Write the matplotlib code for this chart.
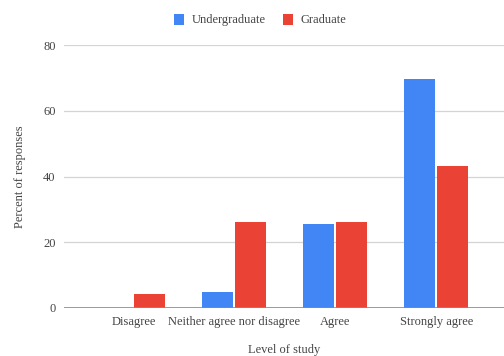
import matplotlib
matplotlib.use("Agg")
import matplotlib.pyplot as plt
import numpy as np

categories = ["Disagree", "Neither agree nor disagree", "Agree", "Strongly agree"]
undergraduate = [0, 4.9, 25.4, 69.8]
graduate = [4.3, 26.1, 26.1, 43.2]
y_ticks = [0, 20, 40, 60, 80]

BLUE = "#4285F4"
RED = "#EA4335"
TEXT = "#444444"

plt.rcParams["font.family"] = ["Liberation Serif", "DejaVu Serif"]

W, H = 504, 356
fig = plt.figure(figsize=(W / 100, H / 100), dpi=100)
ax = fig.add_axes([64 / W, 1 - 308 / H, 1 - 64 / W, (308 - 45) / H])

x = np.arange(len(categories))
bw = 0.307
gap = 0.01
ax.bar(x - bw / 2 - gap, undergraduate, width=bw, color=BLUE, label="Undergraduate", zorder=3)
ax.bar(x + bw / 2 + gap, graduate, width=bw, color=RED, label="Graduate", zorder=3)

ax.set_xlim(-0.688, 3.67)
ax.set_ylim(0, 80)
ax.set_yticks(y_ticks)
ax.set_xticks(x)
ax.set_xticklabels(categories)
ax.tick_params(axis="both", length=0, labelsize=9, colors=TEXT)
ax.tick_params(axis="x", pad=6)
ax.tick_params(axis="y", pad=6)

for v in y_ticks[1:]:
    ax.axhline(v, color="#d4d4d4", lw=0.9, zorder=1)
ax.axhline(0, color="#8a8a8a", lw=1.2, zorder=4)

for s in ax.spines.values():
    s.set_visible(False)

ax.set_ylabel("Percent of responses", fontsize=9, color=TEXT, labelpad=12)
ax.set_xlabel("Level of study", fontsize=9, color=TEXT, labelpad=11)

fig.legend(loc="center", bbox_to_anchor=(260 / W, 1 - 20 / H), ncol=2, frameon=False,
           fontsize=9, labelcolor=TEXT, handlelength=0.8, handleheight=1.0,
           handletextpad=0.6, columnspacing=1.4)

fig.savefig("out.png", dpi=100)
